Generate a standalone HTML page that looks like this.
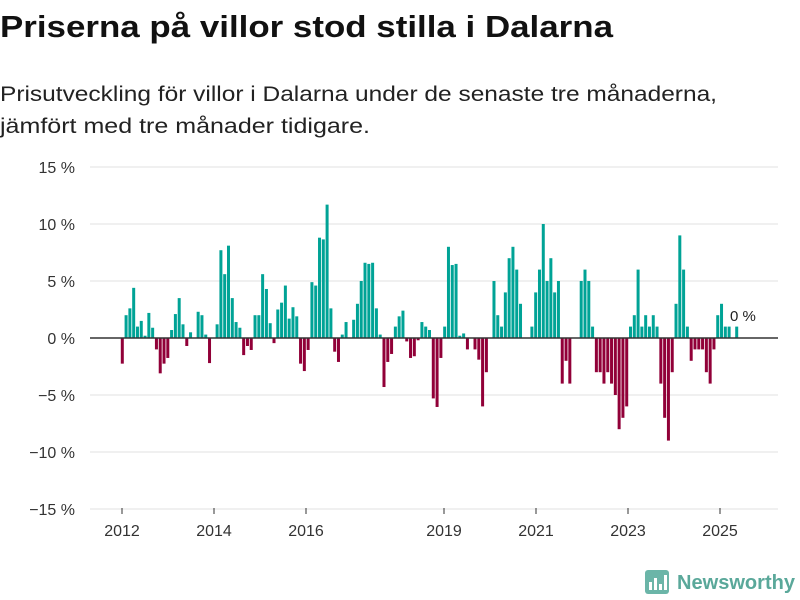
<!DOCTYPE html>
<html><head><meta charset="utf-8"><style>
body{margin:0;background:#fff;}
svg{display:block;font-family:"Liberation Sans",sans-serif;}
</style></head><body>
<svg width="800" height="600" viewBox="0 0 800 600">
<text x="0" y="37" font-size="31" font-weight="bold" fill="#111" textLength="613" lengthAdjust="spacingAndGlyphs">Priserna på villor stod stilla i Dalarna</text>
<text x="0" y="101" font-size="21" fill="#222" textLength="717" lengthAdjust="spacingAndGlyphs">Prisutveckling för villor i Dalarna under de senaste tre månaderna,</text>
<text x="0" y="133" font-size="21" fill="#222" textLength="370" lengthAdjust="spacingAndGlyphs">jämfört med tre månader tidigare.</text>
<g id="grid"></g>
<g id="bars"></g>
<g id="axes"></g>
<text x="730" y="321" font-size="15" fill="#222">0 %</text>
<g>
<rect x="645" y="570" width="24" height="24" rx="3" fill="#6bb5a8"/>
<rect x="649" y="582" width="3" height="8" fill="#fff"/><rect x="654" y="578" width="3" height="12" fill="#fff"/><rect x="659" y="584" width="3" height="6" fill="#fff"/><rect x="664" y="575" width="3" height="15" fill="#fff"/>
<text x="677" y="589" font-size="20" font-weight="bold" fill="#5aa89a" textLength="118" lengthAdjust="spacingAndGlyphs">Newsworthy</text>
</g>
</svg>
<script>
const values=[-2.25,2.0,2.6,4.4,1.0,1.5,0.2,2.2,0.9,-1.0,-3.1,-2.25,-1.75,0.7,2.1,3.5,1.2,-0.7,0.5,0,2.3,2.0,0.3,-2.2,0,1.2,7.7,5.6,8.1,3.5,1.4,0.9,-1.5,-0.7,-1.05,2.0,2.0,5.6,4.3,1.3,-0.45,2.5,3.1,4.6,1.7,2.7,1.9,-2.25,-2.9,-1.05,4.9,4.6,8.8,8.65,11.7,2.6,-1.2,-2.1,
0.3,1.4,0,1.6,3.0,5.0,6.6,6.5,6.6,2.6,0.3,-4.3,-2.1,-1.4,1.0,1.9,2.4,-0.3,-1.75,-1.6,-0.2,1.4,1.0,0.7,-5.3,-6.05,-1.75,1.0,8.0,6.4,6.5,0.2,0.4,-1.0,0,-1.0,-1.9,-6.0,-3.0,0,5.0,2.0,1.0,4.0,7.0,8.0,6.0,3.0,0,0,1.0,4.0,6.0,10.0,5.0,7.0,4.0,5.0,
-4.0,-2.0,-4.0,0,0,5.0,6.0,5.0,1.0,-3.0,-3.0,-4.0,-3.0,-4.0,-5.0,-8.0,-7.0,-6.0,1.0,2.0,6.0,1.0,2.0,1.0,2.0,1.0,-4.0,-7.0,-9.0,-3.0,3.0,9.0,6.0,1.0,-2.0,-1.0,-1.0,-1.0,-3.0,-4.0,-1.0,2.0,3.0,1.0,1.0,0,1.0];
const yTicks=[15,10,5,0,-5,-10,-15];
const yTickLabels=["15 %","10 %","5 %","0 %","−5 %","−10 %","−15 %"];
const xTickYears=[2012,2014,2016,2019,2021,2023,2025];
const NS="http://www.w3.org/2000/svg";
const y=v=>338-v*11.4;
const x0=122.3,x1=736.7;
const xi=i=>x0+i*(x1-x0)/(values.length-1);
const xYear=yr=>122+(yr-2012)*46;
function mk(t,a,p){const e=document.createElementNS(NS,t);for(const k in a)e.setAttribute(k,a[k]);p.appendChild(e);return e;}
const grid=document.getElementById('grid'),bars=document.getElementById('bars'),axes=document.getElementById('axes');
yTicks.forEach((v,i)=>{
 if(v!==0){const l=mk('line',{x1:90,x2:778,y1:y(v),y2:y(v),stroke:'#e0e0e0','stroke-width':1},grid);
 
 }
 const t=mk('text',{x:75,y:y(v)+6,'text-anchor':'end','font-size':16,fill:'#333'},axes);
 t.textContent=yTickLabels[i];
 
 
});
values.forEach((v,i)=>{
 if(v===0)return;
 const r=mk('rect',{x:xi(i)-1.5,width:3,y:Math.min(y(v),338),height:Math.abs(y(v)-338),fill:v>0?'#00a396':'#910038'},bars);
 
 
});
const z=mk('line',{x1:90,x2:778,y1:338,y2:338,stroke:'#333','stroke-width':1.5},axes);


xTickYears.forEach(yr=>{
 const tk=mk('line',{x1:xYear(yr),x2:xYear(yr),y1:508,y2:514,stroke:'#333','stroke-width':1},axes);
 
 
 const t=mk('text',{x:xYear(yr),y:536,'text-anchor':'middle','font-size':16,fill:'#333'},axes);
 t.textContent=yr;
 
 
});
</script>
</body></html>
